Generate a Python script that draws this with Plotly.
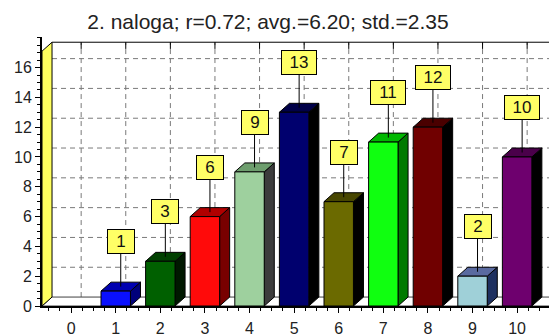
import plotly.graph_objects as go

# ---- data ----
categories = [0, 1, 2, 3, 4, 5, 6, 7, 8, 9, 10]
counts = [0, 1, 3, 6, 9, 13, 7, 11, 12, 2, 10]
y_ticks = [0, 2, 4, 6, 8, 10, 12, 14, 16]
title_text = "2. naloga; r=0.72; avg.=6.20; std.=2.35"

# bar colours: front face, top face, side face
front_colors = ["#ffffff", "#0a10ff", "#006000", "#ff0a0a", "#9ed09e", "#00006e",
                "#6b6a00", "#10ff10", "#700000", "#9fd0d8", "#6e006e"]
top_colors = ["#ffffff", "#0000b0", "#004000", "#b00000", "#6e9e6e", "#000048",
              "#474600", "#00b800", "#4a0000", "#5a6aa0", "#4a004a"]
side_colors = ["#ffffff", "#00007a", "#001800", "#780000", "#3c3c3c", "#000000",
               "#000000", "#007a00", "#000000", "#1e3060", "#000000"]

FONT = "Arial, Liberation Sans, sans-serif"

# ---- geometry of the pseudo-3D frame (axis units) ----
X0, X1 = -0.653, 10.715      # x range of the front plane
Y_TOP = 18.05                # y range top
DX, DY = 0.225, 0.6          # depth offset of the back wall
BAR_W = 0.66
WALL_TOP = 17.1              # front top of the side wall
BACK_TOP = 17.7              # top edge of the back wall

fig = go.Figure()


def poly(xs, ys, fill, line="#000000", lw=1):
    fig.add_trace(go.Scatter(
        x=xs + [xs[0]], y=ys + [ys[0]], mode="lines", fill="toself",
        fillcolor=fill, line=dict(color=line, width=lw),
        hoverinfo="skip", showlegend=False))


def lines(xs, ys, color, width=1, dash="solid"):
    fig.add_trace(go.Scatter(
        x=xs, y=ys, mode="lines", line=dict(color=color, width=width, dash=dash),
        hoverinfo="skip", showlegend=False, cliponaxis=False))


# back-wall dashed grid
gx, gy = [], []
for v in y_ticks[1:]:
    gx += [X0 + DX, X1 + DX, None]
    gy += [v + DY, v + DY, None]
for c in categories:
    gx += [c + DX, c + DX, None]
    gy += [DY, BACK_TOP, None]
lines(gx, gy, "#7a7a7a", 1, "5px,4px")

# top edge of the back wall with tick marks hanging down
tx, ty = [X0 + DX, X1 + DX, None], [BACK_TOP, BACK_TOP, None]
for c in categories:
    tx += [c + DX, c + DX, None]
    ty += [BACK_TOP, BACK_TOP - 0.45, None]
lines(tx, ty, "#000000", 1)

# floor
poly([X0, X1, X1 + DX, X0 + DX], [0, 0, DY, DY], "#ffffff", "#404040", 1)

# yellow side wall
poly([X0, X0 + DX, X0 + DX, X0], [0, DY, BACK_TOP, WALL_TOP], "#ffff5e", "#000000", 1)

# bars: side, top and front faces
for c, v, fc, tc, sc in zip(categories, counts, front_colors, top_colors, side_colors):
    if v <= 0:
        continue
    xl, xr = c - BAR_W / 2, c + BAR_W / 2
    poly([xr, xr + DX, xr + DX, xr], [0, DY, v + DY, v], sc)
    poly([xl, xr, xr + DX, xl + DX], [v, v, v + DY, v + DY], tc)
    poly([xl, xr, xr, xl], [0, 0, v, v], fc)

# value labels in yellow boxes, tied to the bar tops
for c, v in zip(categories, counts):
    if v <= 0:
        continue
    txt = str(v)
    fig.add_annotation(
        x=c + DX / 2, y=v + DY / 2, xref="x", yref="y",
        text=txt, showarrow=True, arrowhead=0, arrowwidth=1, arrowcolor="#000000",
        ax=0, ay=-45, standoff=0,
        bgcolor="#ffff66", bordercolor="#000000", borderwidth=1, borderpad=3,
        width=20 if len(txt) == 1 else 28, height=17,
        font=dict(family=FONT, size=17, color="#111111"))

fig.update_layout(
    width=549, height=336,
    margin=dict(l=42, r=0, t=37, b=30),
    paper_bgcolor="#ffffff", plot_bgcolor="#ffffff",
    showlegend=False,
    title=dict(text=title_text, x=268 / 549, xref="container", xanchor="center",
               y=1 - 22 / 336, yref="container", yanchor="middle",
               font=dict(family=FONT, size=21, color="#222222")),
    xaxis=dict(range=[X0, X1], tickmode="array", tickvals=categories,
               ticktext=[str(c) for c in categories],
               showgrid=False, zeroline=False, showline=True, linecolor="#000000",
               linewidth=2, ticks="outside", ticklen=5, tickcolor="#000000",
               minor=dict(ticks="outside", dtick=0.25, ticklen=3, tickcolor="#000000",
                          showgrid=False),
               tickfont=dict(family=FONT, size=16, color="#222222"),
               ticklabelstandoff=2, fixedrange=True),
    yaxis=dict(range=[0, Y_TOP], tickmode="array", tickvals=y_ticks,
               showgrid=False, zeroline=False, showline=True, linecolor="#000000",
               linewidth=2, ticks="outside", ticklen=5, tickcolor="#000000",
               minor=dict(ticks="outside", dtick=0.5, ticklen=3, tickcolor="#000000",
                          showgrid=False),
               tickfont=dict(family=FONT, size=16, color="#222222"),
               fixedrange=True),
)

fig.write_html("out.html")
